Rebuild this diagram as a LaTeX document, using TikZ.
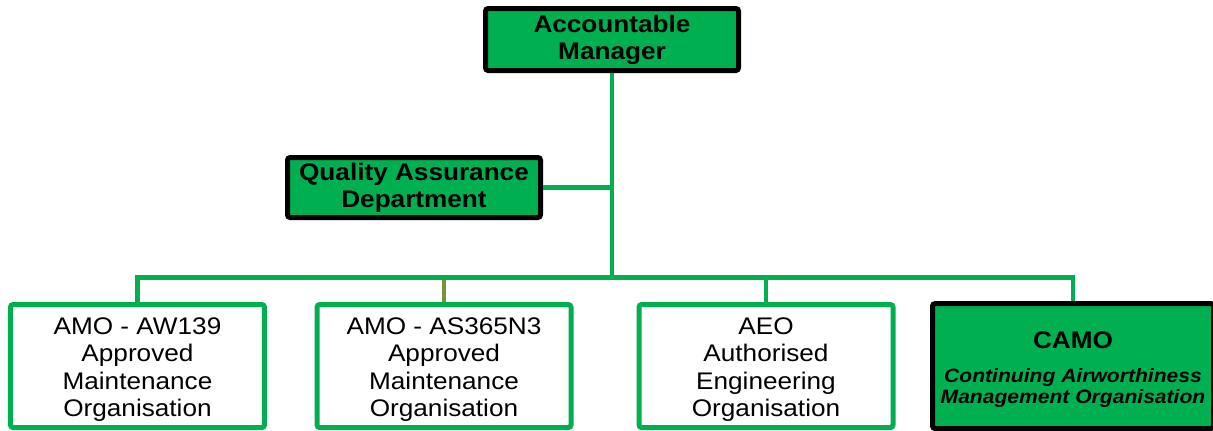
\documentclass[tikz,border=0pt]{standalone}
\usepackage{fontspec}
\setmainfont[FakeStretch=1.09]{Liberation Sans}
\usetikzlibrary{positioning}
\definecolor{orggreen}{RGB}{0,176,80}
\definecolor{orgolive}{RGB}{119,147,60}
\newcommand{\lowgap}[1]{\rule{0pt}{#1}}
\tikzset{
  every node/.style={
    rounded corners=2pt,
    align=center,
    inner sep=0pt,
    font=\fontsize{18}{20.6}\selectfont
  },
  headbox/.style={draw=black, line width=3.75pt, fill=orggreen,
    minimum width=189.75pt, minimum height=46.5pt,
    font=\fontsize{18}{20.25}\selectfont\bfseries},
  unitbox/.style={draw=orggreen, line width=3.75pt, fill=white,
    minimum width=190.5pt, minimum height=92.25pt},
  link/.style={draw=orggreen, line width=3.4pt}
}

\begin{document}
\begin{tikzpicture}[x=0.75pt, y=-0.75pt]
      \useasboundingbox (0,0) rectangle (1213,430);
      \clip (0,0) rectangle (1213,430);
      \node [headbox] (Manager) at (612,39.5) {Accountable\\Manager};
      \node [headbox, on grid, minimum height=45pt, below left=111pt and 148.5pt of Manager] (Quality) {Quality Assurance\\Department};

      \node [unitbox, on grid, below left=244.9pt and 355.9pt of Manager] (Unit1) {\lowgap{18pt}AMO - AW139\\Approved\\Maintenance\\Organisation};
      \node [unitbox, on grid, right=229.9pt of Unit1] (Unit2) {\lowgap{18pt}AMO - AS365N3\\Approved\\Maintenance\\Organisation};
      \node [unitbox, on grid, right=241.5pt of Unit2] (Unit3) {\lowgap{18pt}AEO\\Authorised\\Engineering\\Organisation};
      \node [headbox, on grid, minimum width=210.75pt, minimum height=93.75pt, font=\fontsize{18}{20.6}\selectfont, right=230.25pt of Unit3] (Camo)
        {\lowgap{20pt}\textbf{CAMO}\\[5pt]{\fontsize{14.5}{16}\selectfont\bfseries\itshape\begin{tabular}[t]{@{}c@{}}Continuing Airworthiness\\Management Organisation\end{tabular}}};

      \coordinate (Bus) at (612,277.5);
      \draw [link, draw=orgolive] (Unit2.north) to (Unit2.north |- Bus);
      \draw [link] (Manager.south) to (Bus);
      \draw [link] (Quality.east) to (Quality.east -| Bus);
      \draw [link] (Unit1.north) |- (Bus) -| (Camo.north);
      \draw [link] (Bus -| Unit3.north) to (Unit3.north);
    \end{tikzpicture}
\end{document}
